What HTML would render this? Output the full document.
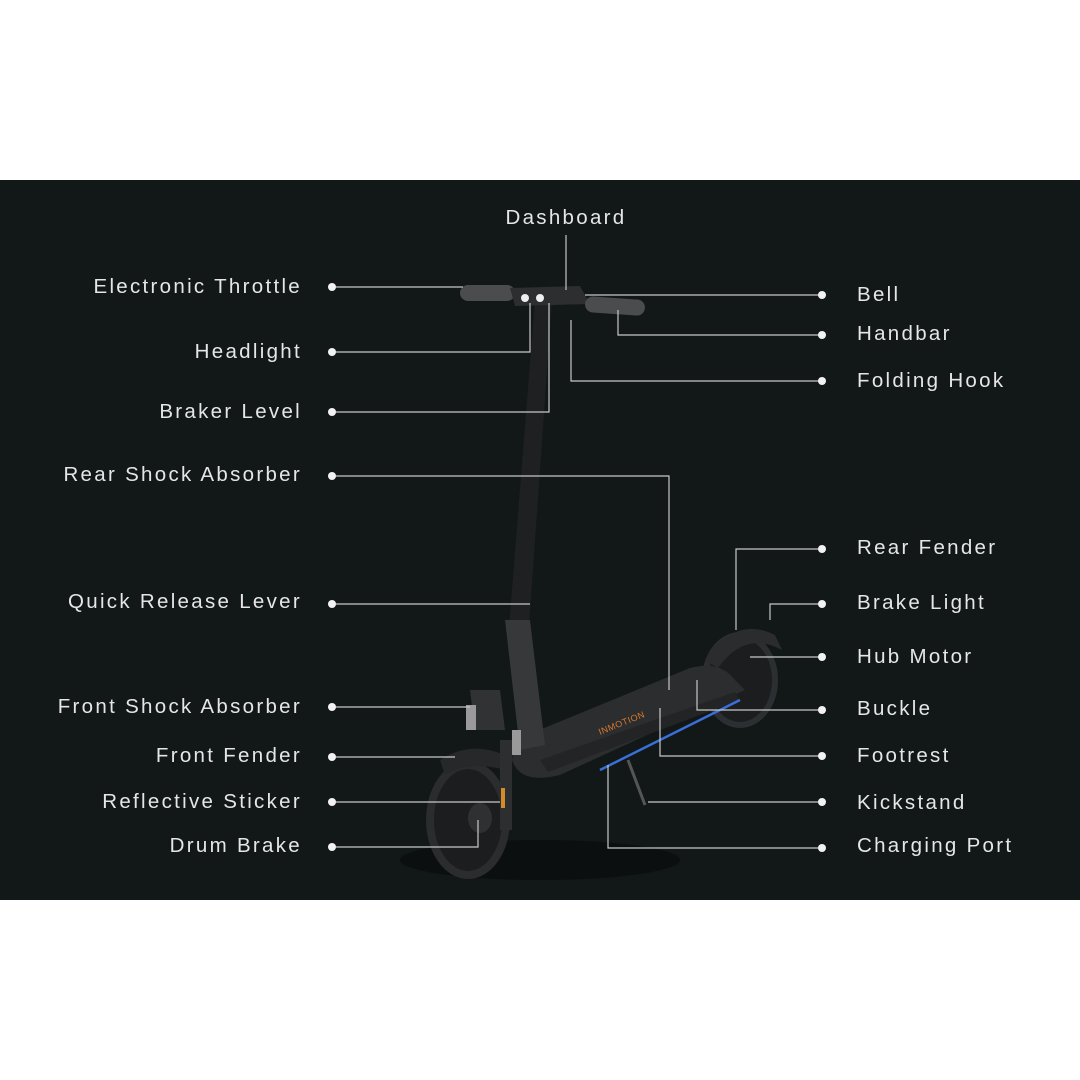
<!DOCTYPE html>
<html><head><meta charset="utf-8"><style>
html,body{margin:0;padding:0;background:#fff;width:1080px;height:1080px;overflow:hidden}
svg{display:block}
text{font-family:"Liberation Sans",sans-serif;font-size:20.5px;fill:#e6e6e6;letter-spacing:2.3px}
</style></head><body>
<svg width="1080" height="1080" viewBox="0 0 1080 1080">
<rect x="0" y="180" width="1080" height="720" fill="#121717"/>
<g>
<ellipse cx="540" cy="860" rx="140" ry="20" fill="#0c0f10"/>
<ellipse cx="740" cy="680" rx="35" ry="45" fill="#1b1d1f" stroke="#2c2f31" stroke-width="6"/>
<path d="M705 660 Q735 615 775 635 L782 650 Q745 630 718 668Z" fill="#2a2c2e"/>
<path d="M515 740 L690 668 Q720 660 735 680 L745 690 L560 775 Q520 785 512 760Z" fill="#2b2d2f"/>
<path d="M540 760 L735 692 L740 700 L548 772Z" fill="#222426"/>
<path d="M600 770 L740 700" stroke="#3a6fd8" stroke-width="2.5"/>
<text x="600" y="735" style="font-size:9px;fill:#d9782a;letter-spacing:0.5px" transform="rotate(-22 600 735)">INMOTION</text>
<path d="M535 300 L552 300 L528 640 L508 640Z" fill="#1e2022"/>
<path d="M505 620 L530 620 L545 745 L520 750 Z" fill="#36383a"/>
<path d="M470 690 L500 690 L505 730 L475 730Z" fill="#303234"/>
<rect x="466" y="705" width="10" height="25" fill="#9a9a9a"/>
<rect x="512" y="730" width="9" height="25" fill="#9a9a9a"/>
<ellipse cx="468" cy="820" rx="38" ry="55" fill="#1b1d1f" stroke="#2a2c2e" stroke-width="8"/>
<ellipse cx="480" cy="818" rx="12" ry="15" fill="#2e3032"/>
<path d="M440 760 Q470 740 505 755 L505 770 Q470 760 445 775Z" fill="#262829"/>
<rect x="500" y="740" width="12" height="90" fill="#2c2e30"/>
<rect x="501" y="788" width="4" height="20" fill="#d68a2a"/>
<path d="M628 760 L645 805" stroke="#555" stroke-width="3"/>
<rect x="460" y="285" width="55" height="16" rx="8" fill="#4a4c4e"/>
<path d="M510 288 L580 286 L590 304 L515 306Z" fill="#2c2e30"/>
<circle cx="525" cy="298" r="4" fill="#eee"/><circle cx="540" cy="298" r="4" fill="#eee"/>
<rect x="585" y="298" width="60" height="16" rx="8" fill="#4a4c4e" transform="rotate(4 615 306)"/>
</g>
<g stroke="#c8c8c8" stroke-width="1.2" fill="none">
<path d="M566 235 V290"/>
<path d="M332 287 H463"/>
<path d="M332 352 H530 V303"/>
<path d="M332 412 H549 V303"/>
<path d="M332 476 H669 V690"/>
<path d="M332 604 H530"/>
<path d="M332 707 H470"/>
<path d="M332 757 H455"/>
<path d="M332 802 H500"/>
<path d="M332 847 H478 V820"/>
<path d="M822 295 H585"/>
<path d="M822 335 H618 V310"/>
<path d="M822 381 H571 V320"/>
<path d="M822 549 H736 V630"/>
<path d="M822 604 H770 V620"/>
<path d="M822 657 H750"/>
<path d="M822 710 H697 V680"/>
<path d="M822 756 H660 V708"/>
<path d="M822 802 H648"/>
<path d="M822 848 H608 V765"/>
</g>
<g fill="#f2f2f2">
<circle cx="332" cy="287" r="4"/><circle cx="332" cy="352" r="4"/><circle cx="332" cy="412" r="4"/><circle cx="332" cy="476" r="4"/><circle cx="332" cy="604" r="4"/><circle cx="332" cy="707" r="4"/><circle cx="332" cy="757" r="4"/><circle cx="332" cy="802" r="4"/><circle cx="332" cy="847" r="4"/>
<circle cx="822" cy="295" r="4"/><circle cx="822" cy="335" r="4"/><circle cx="822" cy="381" r="4"/><circle cx="822" cy="549" r="4"/><circle cx="822" cy="604" r="4"/><circle cx="822" cy="657" r="4"/><circle cx="822" cy="710" r="4"/><circle cx="822" cy="756" r="4"/><circle cx="822" cy="802" r="4"/><circle cx="822" cy="848" r="4"/>
</g>
<text x="566" y="224" text-anchor="middle">Dashboard</text>
<g text-anchor="end">
<text x="302" y="293">Electronic Throttle</text>
<text x="302" y="358">Headlight</text>
<text x="302" y="418">Braker Level</text>
<text x="302" y="481">Rear Shock Absorber</text>
<text x="302" y="608">Quick Release Lever</text>
<text x="302" y="713">Front Shock Absorber</text>
<text x="302" y="762">Front Fender</text>
<text x="302" y="808">Reflective Sticker</text>
<text x="302" y="852">Drum Brake</text>
</g>
<g>
<text x="857" y="301">Bell</text>
<text x="857" y="340">Handbar</text>
<text x="857" y="387">Folding Hook</text>
<text x="857" y="554">Rear Fender</text>
<text x="857" y="609">Brake Light</text>
<text x="857" y="663">Hub Motor</text>
<text x="857" y="715">Buckle</text>
<text x="857" y="762">Footrest</text>
<text x="857" y="809">Kickstand</text>
<text x="857" y="852">Charging Port</text>
</g>
</svg>
</body></html>
